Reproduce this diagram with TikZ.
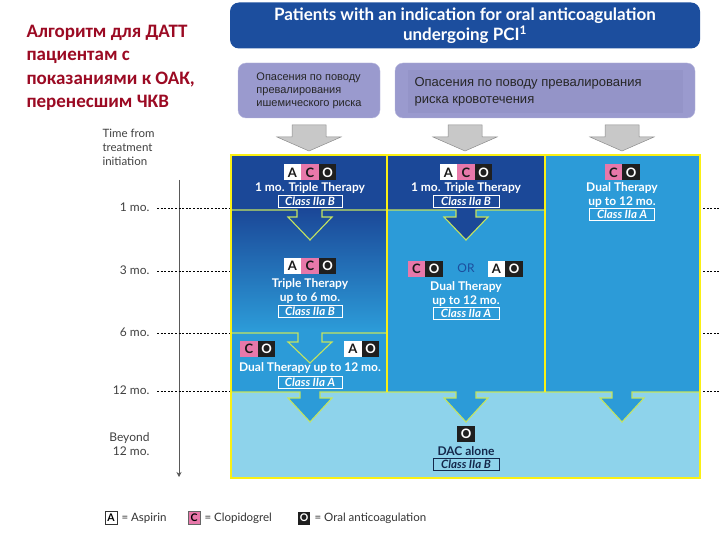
\documentclass[tikz,border=0pt]{standalone}
\usepackage{fontspec}
\setmainfont{Lato}
\newfontfamily\rufont{Carlito}
\newfontfamily\boxfont{Liberation Sans}
\usetikzlibrary{arrows.meta}
\definecolor{hdblue}{RGB}{28,78,158}
\definecolor{dkblue}{RGB}{27,72,152}
\definecolor{mdblue}{RGB}{44,155,216}
\definecolor{ltblue}{RGB}{142,211,235}
\definecolor{lavender}{RGB}{154,154,206}
\definecolor{lavinner}{RGB}{148,148,200}
\definecolor{panelyel}{RGB}{250,240,20}
\definecolor{limeline}{RGB}{196,228,96}
\definecolor{pinkC}{RGB}{232,120,170}
\definecolor{titlered}{RGB}{155,10,35}
\definecolor{navy}{RGB}{20,40,75}
\definecolor{greyarrow}{RGB}{200,200,200}

\begin{document}
\begin{tikzpicture}[x=1pt, y=-1pt,
  letA/.style={fill=white, text=black!90, font=\bfseries\fontsize{13}{13}\selectfont,
    minimum width=17.5pt, minimum height=16pt, inner sep=0pt},
  letC/.style={letA, fill=pinkC},
  letO/.style={letA, fill=black!88, text=white},
  classbox/.style={draw=white, line width=0.6pt, text=white,
    font=\bfseries\itshape\fontsize{11.5}{11.5}\selectfont,
    minimum width=64pt, minimum height=12pt, inner sep=0pt},
  ther/.style={text=white, font=\bfseries\fontsize{12}{14}\selectfont, align=center},
  timelbl/.style={font=\fontsize{12}{14}\selectfont, text=black!75, anchor=east, align=right},
  legbox/.style={minimum width=12pt, minimum height=13pt, inner sep=0pt,
    font=\bfseries\fontsize{10.5}{10.5}\selectfont},
  legtxt/.style={anchor=west, font=\fontsize{11.5}{11.5}\selectfont, text=black!80},
  graybl/.style={fill=greyarrow, draw=black!45, line width=0.5pt},
  tick/.style={line width=0.9pt, dash pattern=on 2pt off 1.6pt}]
  \useasboundingbox (0,0) rectangle (720,540);

  % title on the left
  \node[anchor=west, text=titlered, font=\rufont\bfseries\fontsize{19}{23.5}\selectfont, align=left]
    (ttl) at (23,68) {Алгоритм для ДАТТ\\пациентам с\\показаниями к ОАК,\\перенесшим ЧКВ};

  % header and risk boxes
  \node[fill=hdblue, rounded corners=9pt, minimum width=470pt, minimum height=46pt,
    text=white, font=\bfseries\fontsize{17}{20}\selectfont, align=center]
    (hdr) at (465,25.5) {Patients with an indication for oral anticoagulation\\undergoing PCI\textsuperscript{1}};
  \node[fill=lavender, draw=lavender!70!white, rounded corners=8pt, minimum width=142pt,
    minimum height=55pt, text=black!85, font=\boxfont\fontsize{11}{13}\selectfont, align=left]
    (isch) at (309,90.5) {Опасения по поводу\\превалирования\\ишемического риска};
  \node[fill=lavender, draw=lavender!70!white, rounded corners=8pt, minimum width=300pt,
    minimum height=55pt] (bleed) at (545,90.5) {};
  \node[fill=lavinner, minimum width=275pt, minimum height=43pt] (bleedin) at (545.5,91.5) {};
  \node[anchor=west, text=black!85, font=\boxfont\fontsize{13}{17}\selectfont, align=left]
    (bleedtxt) at (411,91.5) {Опасения по поводу превалирования\\риска кровотечения};

  % grey arrows
  \foreach \cx in {309,465,622}
    \draw[graybl] (\cx-17,125) -- (\cx+17,125) -- (\cx+17,137) -- (\cx+32,137)
      -- (\cx,151) -- (\cx-32,137) -- (\cx-17,137) -- cycle;

  % panel
  \fill[dkblue] (232,155) rectangle (545,210);
  \shade[top color=dkblue, bottom color=mdblue] (232,210) rectangle (387,330);
  \fill[mdblue] (232,329) rectangle (387,392);
  \fill[mdblue] (387,210) rectangle (545,392);
  \fill[mdblue] (545,155) rectangle (700,392);
  \fill[ltblue] (232,392) rectangle (700,478);

  % arrows inside the panel
  \draw[limeline, line width=1.1pt] (232,210) -- (297,210) -- (297,217) -- (288,217) -- (310,240)
    -- (332,217) -- (322,217) -- (322,210) -- (387,210);
  \filldraw[fill=dkblue, draw=limeline, line width=1.1pt] (387,210) -- (456,210) -- (456,217)
    -- (444,217) -- (466,240) -- (488,217) -- (476,217) -- (476,210) -- (545,210);
  \draw[limeline, line width=1.1pt] (232,333) -- (298,333) -- (298,342) -- (288,342) -- (310,363)
    -- (332,342) -- (322,342) -- (322,333) -- (387,333);
  \foreach \cx in {310,466,622}
    \fill[mdblue] (\cx-10,391) -- (\cx-10,398) -- (\cx-22,398) -- (\cx,422) -- (\cx+22,398)
      -- (\cx+10,398) -- (\cx+10,391) -- cycle;
  \draw[limeline, line width=1.1pt] (232,392)
    -- (300,392) -- (300,398) -- (288,398) -- (310,422) -- (332,398) -- (320,398) -- (320,392)
    -- (456,392) -- (456,398) -- (444,398) -- (466,422) -- (488,398) -- (476,398) -- (476,392)
    -- (612,392) -- (612,398) -- (600,398) -- (622,422) -- (644,398) -- (632,398) -- (632,392)
    -- (700,392);
  \draw[panelyel, line width=1.6pt] (387,155) -- (387,392);
  \draw[panelyel, line width=1.6pt] (545,155) -- (545,392);
  \draw[panelyel, line width=2.6pt] (231,155) rectangle (700,478);

  % left column
  \node[letA] (a1) at (292.5,172.5) {A};
  \node[letC] (c1) at (310,172.5) {C};
  \node[letO] (o1) at (327.5,172.5) {O};
  \node[ther] (t1) at (310,188) {1 mo. Triple Therapy};
  \node[classbox] (k1) at (310,201) {Class IIa B};
  \node[letA] (a2) at (292.5,266) {A};
  \node[letC] (c2) at (310,266) {C};
  \node[letO] (o2) at (327.5,266) {O};
  \node[ther] (t2) at (310,291) {Triple Therapy\\up to 6 mo.};
  \node[classbox] (k2) at (310,311) {Class IIa B};
  \node[letC] (c3) at (249,349) {C};
  \node[letO] (o3) at (266.5,349) {O};
  \node[letA] (a4) at (353,349) {A};
  \node[letO] (o4) at (370.5,349) {O};
  \node[ther] (t3) at (310,368) {Dual Therapy up to 12 mo.};
  \node[classbox] (k3) at (310,382) {Class IIa A};

  % middle column
  \node[letA] (a5) at (448.5,172.5) {A};
  \node[letC] (c5) at (466,172.5) {C};
  \node[letO] (o5) at (483.5,172.5) {O};
  \node[ther] (t5) at (466,188) {1 mo. Triple Therapy};
  \node[classbox, minimum width=66pt] (k5) at (466,201) {Class IIa B};
  \node[letC] (c6) at (416.5,268.5) {C};
  \node[letO] (o6) at (434,268.5) {O};
  \node[text=hdblue, font=\fontsize{12}{12}\selectfont] (or) at (466,268.5) {OR};
  \node[letA] (a7) at (496.5,268.5) {A};
  \node[letO] (o7) at (514,268.5) {O};
  \node[ther] (t6) at (466,294.5) {Dual Therapy\\up to 12 mo.};
  \node[classbox, minimum width=66pt] (k6) at (466,313.5) {Class IIa A};

  % right column
  \node[letC] (c8) at (613.5,172.5) {C};
  \node[letO] (o8) at (631,172.5) {O};
  \node[ther] (t8) at (622,195) {Dual Therapy\\up to 12 mo.};
  \node[classbox, minimum width=65pt] (k8) at (622,214) {Class IIa A};

  % bottom row
  \node[letO] (o9) at (466,434) {O};
  \node[text=navy, font=\bfseries\fontsize{12}{12}\selectfont] (t9) at (466,451) {DAC alone};
  \node[classbox, draw=navy, text=navy, minimum width=66pt] (k9) at (466,464.5) {Class IIa B};

  % time axis
  \node[anchor=west, font=\fontsize{11.5}{14}\selectfont, text=black!75, align=left]
    (tfrom) at (99,147) {Time from\\treatment\\initiation};
  \coordinate (tstart) at (179,180);
  \coordinate (tend) at (179,477);
  \draw[black!65, line width=0.6pt, -{Stealth[length=5pt, width=5pt]}] (tstart) -- (tend);
  \node[timelbl] (m1) at (153,207) {1 mo.};
  \node[timelbl] (m3) at (153,270) {3 mo.};
  \node[timelbl] (m6) at (153,332) {6 mo.};
  \node[timelbl] (m12) at (153,390) {12 mo.};
  \node[timelbl] (mb) at (153,444) {Beyond\\12 mo.};
  \foreach \y in {208,271,333,391} {
    \draw[tick] (157,\y) -- (230,\y);
    \draw[tick] (703,\y) -- (720,\y);
  }

  % legend
  \node[legbox, draw=black!80, fill=white] (la) at (111,518) {A};
  \node[legtxt] (lat) at (118,518) {= Aspirin};
  \node[legbox, draw=black!60, fill=pinkC] (lc) at (194,518) {C};
  \node[legtxt] (lct) at (201,518) {= Clopidogrel};
  \node[legbox, fill=black!88, text=white] (lo) at (304,518) {O};
  \node[legtxt] (lot) at (311,518) {= Oral anticoagulation};
\end{tikzpicture}
\end{document}
